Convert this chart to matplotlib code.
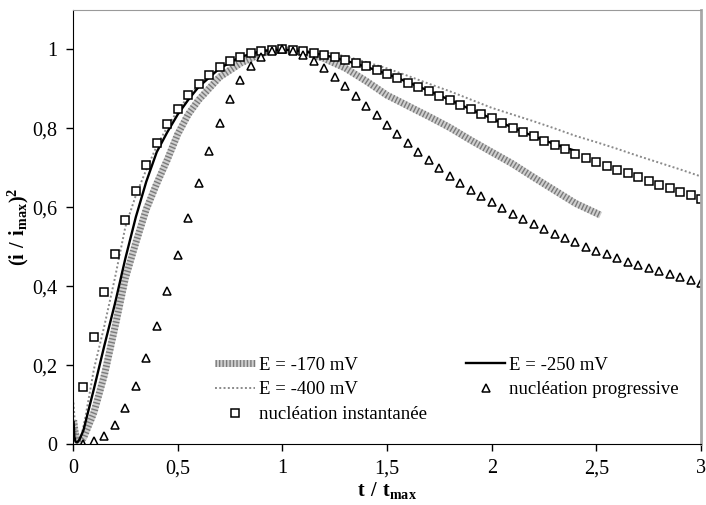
#!/usr/bin/python

"""
Normalised chronoamperometric transients compared with the
instantaneous / progressive nucleation models
"""

import numpy as np
import matplotlib
matplotlib.use("Agg")
import matplotlib.pyplot as plt
from matplotlib.ticker import FuncFormatter

plt.rcParams['font.family'] = ['Liberation Serif', 'DejaVu Serif']
plt.rcParams['mathtext.fontset'] = 'custom'
plt.rcParams['mathtext.rm'] = 'Liberation Serif'
plt.rcParams['mathtext.bf'] = 'Liberation Serif:bold'

# model points
t_model = [0.05, 0.1, 0.15, 0.2, 0.25, 0.3, 0.35, 0.4, 0.45, 0.5,
           0.55, 0.6, 0.65, 0.7, 0.75, 0.8, 0.85, 0.9, 0.95, 1.0,
           1.05, 1.1, 1.15, 1.2, 1.25, 1.3, 1.35, 1.4, 1.45, 1.5,
           1.55, 1.6, 1.65, 1.7, 1.75, 1.8, 1.85, 1.9, 1.95, 2.0,
           2.05, 2.1, 2.15, 2.2, 2.25, 2.3, 2.35, 2.4, 2.45, 2.5,
           2.55, 2.6, 2.65, 2.7, 2.75, 2.8, 2.85, 2.9, 2.95, 3.0]
y_inst = [0.145, 0.272, 0.384, 0.482, 0.568, 0.642, 0.707, 0.762, 0.810, 0.850,
          0.885, 0.913, 0.936, 0.955, 0.970, 0.982, 0.990, 0.996, 0.999, 1.000,
          0.999, 0.997, 0.992, 0.987, 0.981, 0.974, 0.965, 0.957, 0.947, 0.937,
          0.927, 0.916, 0.905, 0.894, 0.883, 0.871, 0.860, 0.848, 0.837, 0.825,
          0.814, 0.802, 0.791, 0.780, 0.769, 0.758, 0.747, 0.736, 0.726, 0.716,
          0.705, 0.695, 0.686, 0.676, 0.666, 0.657, 0.648, 0.639, 0.630, 0.622]
y_prog = [0.001, 0.007, 0.021, 0.049, 0.091, 0.147, 0.217, 0.298, 0.387, 0.480,
          0.572, 0.661, 0.742, 0.814, 0.874, 0.922, 0.958, 0.982, 0.996, 1.000,
          0.996, 0.986, 0.971, 0.952, 0.930, 0.907, 0.882, 0.857, 0.833, 0.808,
          0.785, 0.762, 0.740, 0.719, 0.699, 0.680, 0.662, 0.645, 0.628, 0.613,
          0.598, 0.583, 0.570, 0.557, 0.545, 0.533, 0.521, 0.511, 0.500, 0.490,
          0.481, 0.471, 0.462, 0.454, 0.446, 0.438, 0.430, 0.423, 0.415, 0.408]

# measured transients
t_170 = [0.003, 0.01, 0.02, 0.03, 0.05, 0.1, 0.15, 0.2, 0.25, 0.3, 0.35, 0.4,
         0.45, 0.5, 0.55, 0.6, 0.7, 0.8, 0.9, 1.0, 1.1, 1.2, 1.3, 1.4, 1.5,
         1.6, 1.7, 1.8, 1.9, 2.0, 2.1, 2.2, 2.3, 2.4, 2.52]
y_170 = [0.06, 0.03, 0.01, 0.004, 0.015, 0.08, 0.175, 0.295, 0.42, 0.51, 0.595, 0.66,
         0.72, 0.785, 0.835, 0.872, 0.93, 0.965, 0.99, 1.0, 0.993, 0.977, 0.953, 0.92, 0.884,
         0.857, 0.83, 0.802, 0.77, 0.74, 0.71, 0.676, 0.643, 0.61, 0.58]

t_250 = [0.003, 0.006, 0.012, 0.02, 0.03, 0.05, 0.1, 0.15, 0.2, 0.25, 0.3, 0.35,
         0.4, 0.45, 0.5, 0.55, 0.6, 0.7, 0.8, 0.9, 1.0, 1.1, 1.2, 1.3, 1.4, 1.5,
         1.6, 1.7, 1.8, 1.9, 2.0, 2.1, 2.2, 2.3, 2.4]
y_250 = [0.055, 0.02, 0.006, 0.004, 0.01, 0.035, 0.14, 0.25, 0.355, 0.47, 0.575, 0.665,
         0.74, 0.79, 0.835, 0.872, 0.905, 0.952, 0.981, 0.996, 1.0, 0.995, 0.986, 0.972, 0.956, 0.938,
         0.917, 0.895, 0.872, 0.848, 0.825, 0.802, 0.780, 0.760, 0.743]

t_400 = [0.002, 0.008, 0.015, 0.025, 0.04, 0.06, 0.1, 0.15, 0.2, 0.25, 0.3, 0.35,
         0.4, 0.45, 0.5, 0.55, 0.6, 0.7, 0.8, 0.9, 1.0, 1.1, 1.2, 1.3, 1.4, 1.5,
         1.6, 1.7, 1.8, 1.9, 2.0, 2.1, 2.2, 2.3, 2.4, 2.5, 2.6, 2.7, 2.8, 2.9, 3.0]
y_400 = [0.105, 0.06, 0.02, 0.005, 0.02, 0.07, 0.19, 0.30, 0.42, 0.55, 0.63, 0.695,
         0.755, 0.803, 0.845, 0.88, 0.91, 0.953, 0.981, 0.996, 1.0, 0.998, 0.993, 0.983, 0.968, 0.952,
         0.933, 0.913, 0.894, 0.873, 0.852, 0.835, 0.818, 0.80, 0.781, 0.765, 0.748, 0.73, 0.713, 0.696, 0.678]

x_ticks = [0, 0.5, 1, 1.5, 2, 2.5, 3]
y_ticks = [0, 0.2, 0.4, 0.6, 0.8, 1]


def comma(v, pos):
    return ('%g' % v).replace('.', ',')


fig = plt.figure(figsize=(7.06, 5.05), dpi=100)
ax = fig.add_axes([0.1034, 0.1208, 0.8896, 0.8594])

# E = -170 mV : thick hatched grey band
l170a, = ax.plot(t_170, y_170, color='#cfcfcf', lw=5, solid_capstyle='butt')
l170b, = ax.plot(t_170, y_170, color='#7a7a7a', lw=5, dashes=(0.2, 0.3))
# E = -400 mV : thin dotted grey
l400, = ax.plot(t_400, y_400, color='#8a8a8a', lw=1.4, dashes=(1, 1.2))
# E = -250 mV : solid black
l250, = ax.plot(t_250, y_250, color='black', lw=1.7)

pi, = ax.plot(t_model, y_inst, ls='none', marker='s', ms=6.2, mfc='white',
              mec='black', mew=1.1)
pp, = ax.plot(t_model, y_prog, ls='none', marker='^', ms=5.8, mfc='white',
              mec='black', mew=1.1)

ax.set_xlim(0, 3)
ax.set_ylim(0, 1.1)
ax.set_xticks(x_ticks)
ax.set_yticks(y_ticks)
ax.xaxis.set_major_formatter(FuncFormatter(comma))
ax.yaxis.set_major_formatter(FuncFormatter(comma))
ax.tick_params(direction='out', length=5, width=1, labelsize=14.5, pad=6)

ax.spines['left'].set_color('black')
ax.spines['bottom'].set_color('black')
ax.spines['top'].set_color('#9a9a9a')
ax.spines['right'].set_color('#a8a8a8')
ax.spines['right'].set_linewidth(2)

ax.set_xlabel(r'$\mathbf{t\ /\ t_{max}}$', fontsize=14.5, labelpad=1)
ax.set_ylabel(r'$\mathbf{(i\ /\ i_{max})^{2}}$', fontsize=14.5, labelpad=1)

ax.legend([(l170a, l170b), l400, pi, l250, pp],
          ['E = -170 mV', 'E = -400 mV', 'nucléation instantanée',
           'E = -250 mV', 'nucléation progressive'],
          ncol=2, frameon=False, fontsize=13.5, numpoints=1,
          handlelength=2.1, handletextpad=0.2, columnspacing=2.1,
          labelspacing=0.4, loc='upper left', bbox_to_anchor=(0.2, 0.24))

fig.savefig("out.png", dpi=100)
